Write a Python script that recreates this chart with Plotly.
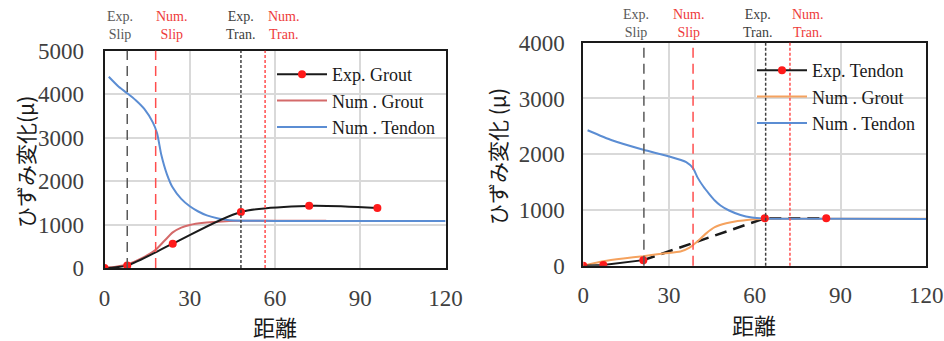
import plotly.graph_objects as go

# ---------------- data ----------------
# Left chart (Grout)
expG_x = [0, 8, 24, 48, 72, 96]
expG_y = [0, 60, 560, 1290, 1430, 1380]
numG_L_x = [0, 4, 8, 13, 18, 21, 24, 27, 30, 35, 40, 48, 60, 78]
numG_L_y = [0, 30, 80, 220, 420, 620, 820, 930, 990, 1040, 1065, 1085, 1090, 1090]
numT_L_x = [1.5, 5, 8, 11, 14, 17, 18.5, 20, 22, 24, 27, 30, 33, 36, 40, 44, 48, 60, 90, 120]
numT_L_y = [4400, 4170, 4020, 3860, 3660, 3350, 3100, 2600, 2150, 1850, 1590, 1420, 1300, 1210, 1140, 1100, 1090, 1082, 1080, 1080]

# Right chart (Tendon)
expT_x = [0, 7, 21, 63.5, 85]
expT_y = [0, 12, 100, 850, 850]
numG_R_x = [0, 7, 14, 21, 28, 34, 37, 40, 43, 46, 50, 54, 58, 62, 66, 80, 120]
numG_R_y = [0, 80, 130, 170, 220, 255, 320, 440, 580, 690, 760, 800, 825, 838, 840, 840, 840]
numT_R_x = [1.5, 10, 21, 30, 36, 38.4, 40, 42, 44, 46, 48, 51, 55, 59, 63, 70, 90, 120]
numT_R_y = [2430, 2250, 2080, 1960, 1860, 1750, 1580, 1420, 1290, 1170, 1080, 990, 910, 865, 848, 842, 840, 838]

# Reference lines (x positions)
L_lines = {"exp_slip": 8, "num_slip": 18, "exp_tran": 48, "num_tran": 56.5}
R_lines = {"exp_slip": 21.2, "num_slip": 38.4, "exp_tran": 63.8, "num_tran": 72.3}

x_ticks = [0, 30, 60, 90, 120]
yL_ticks = [0, 1000, 2000, 3000, 4000, 5000]
yR_ticks = [0, 1000, 2000, 3000, 4000]

# ---------------- styles ----------------
BLACK = "#1a1a1a"
RED_MK = "#ff1a1a"
GROUT_RED = "#d46a6a"
ORANGE = "#f5a25e"
BLUE = "#5b8dd3"
GRID = "#d9d9d9"
TXT = "#404040"
SERIF = "Liberation Serif"
CJK = "Noto Sans CJK JP"

W, H = 944, 341
def px(x):
    return x / W
def py(y):
    return 1 - y / H

fig = go.Figure()

# Left traces
fig.add_trace(go.Scatter(x=numG_L_x, y=numG_L_y, mode="lines", name="Num . Grout",
                         line=dict(color=GROUT_RED, width=2, shape="spline", smoothing=0.6),
                         xaxis="x", yaxis="y", legend="legend", legendrank=2))
fig.add_trace(go.Scatter(x=numT_L_x, y=numT_L_y, mode="lines", name="Num . Tendon",
                         line=dict(color=BLUE, width=2, shape="spline", smoothing=0.6),
                         xaxis="x", yaxis="y", legend="legend", legendrank=3))
fig.add_trace(go.Scatter(x=expG_x, y=expG_y, mode="lines+markers", name="Exp. Grout",
                         line=dict(color=BLACK, width=2, shape="spline", smoothing=0.8),
                         marker=dict(color=RED_MK, size=8),
                         xaxis="x", yaxis="y", legend="legend", legendrank=1))

# Right traces
fig.add_trace(go.Scatter(x=expT_x[2:], y=expT_y[2:], mode="lines", showlegend=False,
                         line=dict(color=BLACK, width=2.5, dash="12px,7px"),
                         xaxis="x2", yaxis="y2"))
fig.add_trace(go.Scatter(x=numG_R_x, y=numG_R_y, mode="lines", name="Num . Grout",
                         line=dict(color=ORANGE, width=2, shape="spline", smoothing=0.6),
                         xaxis="x2", yaxis="y2", legend="legend2", legendrank=2))
fig.add_trace(go.Scatter(x=numT_R_x, y=numT_R_y, mode="lines", name="Num . Tendon",
                         line=dict(color=BLUE, width=2, shape="spline", smoothing=0.5),
                         xaxis="x2", yaxis="y2", legend="legend2", legendrank=3))
fig.add_trace(go.Scatter(x=expT_x[:3], y=expT_y[:3], mode="lines+markers", name="Exp. Tendon",
                         line=dict(color=BLACK, width=2),
                         marker=dict(color=RED_MK, size=8),
                         xaxis="x2", yaxis="y2", legend="legend2", legendrank=1))
fig.add_trace(go.Scatter(x=expT_x[3:], y=expT_y[3:], mode="markers", showlegend=False,
                         marker=dict(color=RED_MK, size=8),
                         xaxis="x2", yaxis="y2"))

# Vertical reference lines
def vlines(lines, xref, yref):
    specs = [("exp_slip", "#595959", "10px,6px", 1.5),
             ("num_slip", "#ff4d4d", "10px,6px", 1.5),
             ("exp_tran", "#404040", "3px,2px", 1.5),
             ("num_tran", "#ff4d4d", "3px,2px", 1.5)]
    for key, col, dash, w in specs:
        fig.add_shape(type="line", xref=xref, yref=yref + " domain",
                      x0=lines[key], x1=lines[key], y0=0, y1=1,
                      line=dict(color=col, dash=dash, width=w), layer="above")

vlines(L_lines, "x", "y")
vlines(R_lines, "x2", "y2")

# Labels above the plot areas
def top_labels(xref, positions, ytop):
    labels = [("Exp.<br>Slip", "#595959"), ("Num.<br>Slip", "#ee3b3b"),
              ("Exp.<br>Tran.", "#404040"), ("Num.<br>Tran.", "#ee3b3b")]
    for (t, c), xv in zip(labels, positions):
        fig.add_annotation(x=xv, xref=xref, y=py(ytop), yref="paper",
                           xanchor="center", yanchor="top",
                           text=t, showarrow=False, align="center",
                           font=dict(family=SERIF, size=14, color=c))

top_labels("x", [5.5, 23.7, 47.7, 63.3], 7)
top_labels("x2", [18.3, 36.9, 61.0, 78.6], 5)

# Axis titles
for xc, yc in [(px(275), py(326)), (px(754), py(324))]:
    fig.add_annotation(x=xc, y=yc, xref="paper", yref="paper", text="距離", showarrow=False,
                       xanchor="center", yanchor="middle",
                       font=dict(family=CJK, size=22, color=BLACK))
fig.add_annotation(x=px(25), y=py(162), xref="paper", yref="paper", text="ひずみ変化(μ)",
                   xanchor="center", yanchor="middle",
                   textangle=-90, showarrow=False, font=dict(family=CJK, size=21, color=BLACK))
fig.add_annotation(x=px(497), y=py(157), xref="paper", yref="paper", text="ひずみ変化 (μ)",
                   xanchor="center", yanchor="middle",
                   textangle=-90, showarrow=False, font=dict(family=CJK, size=21, color=BLACK))

axis_common = dict(showgrid=True, gridcolor=GRID, gridwidth=1.5, zeroline=False,
                   showline=True, linecolor=BLACK, linewidth=2, mirror=True,
                   automargin=False,
                   ticks="", tickfont=dict(family=SERIF, size=23, color=TXT))

fig.update_layout(
    width=W, height=H, margin=dict(l=0, r=0, t=0, b=0),
    paper_bgcolor="white", plot_bgcolor="white",
    font=dict(family=SERIF),
    xaxis=dict(domain=[px(104.5), px(445.6)], range=[0, 120], tickvals=x_ticks,
               anchor="y", ticklabelstandoff=8, **axis_common),
    yaxis=dict(domain=[py(268), py(50.7)], range=[0, 5000], tickvals=yL_ticks,
               anchor="x", ticklabelstandoff=14, **axis_common),
    xaxis2=dict(domain=[px(583.3), px(926.3)], range=[0, 120], tickvals=x_ticks,
                anchor="y2", ticklabelstandoff=8, **axis_common),
    yaxis2=dict(domain=[py(265.7), py(42.7)], range=[0, 4000], tickvals=yR_ticks,
                anchor="x2", ticklabelstandoff=12, **axis_common),
    legend=dict(x=px(272), y=py(56), xanchor="left", yanchor="top",
                bgcolor="rgba(0,0,0,0)", font=dict(family=SERIF, size=18, color=BLACK),
                itemwidth=50, tracegroupgap=0),
    legend2=dict(x=px(752), y=py(52), xanchor="left", yanchor="top",
                 bgcolor="rgba(0,0,0,0)", font=dict(family=SERIF, size=18, color=BLACK),
                 itemwidth=50, tracegroupgap=0),
    showlegend=True,
)

fig.write_html("out.html")
